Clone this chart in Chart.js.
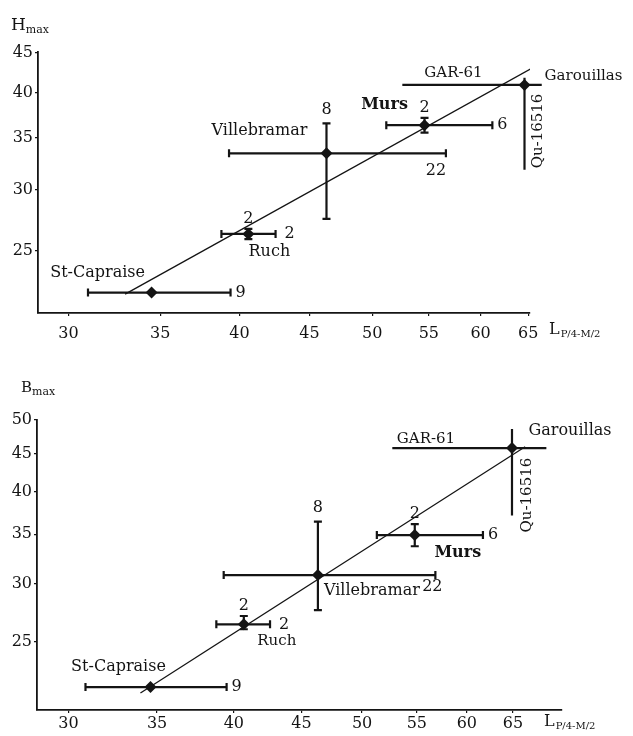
<!DOCTYPE html>
<html>
<head>
<meta charset="utf-8">
<script src="https://cdn.jsdelivr.net/npm/chart.js@4.4.0/dist/chart.umd.min.js"></script>
<style>
  body { margin: 0; background: #fff; }
  .box { position: relative; width: 633px; }
</style>
</head>
<body>
<div class="box" style="height:345px"><canvas id="chartH"></canvas></div>
<div class="box" style="height:391px"><canvas id="chartB"></canvas></div>

<script>
// sites, same order in both panels
const sites = ['St-Capraise', 'Ruch', 'Villebramar', 'Murs', 'Garouillas'];
const nL = ['9', '2', '22', '6', ''];     // n for the L measurement
const nV = ['', '2', '8', '2', ''];       // n for Hmax / Bmax

const xTicks = [30, 35, 40, 45, 50, 55, 60, 65];
const hTicks = [25, 30, 35, 40, 45];
const bTicks = [25, 30, 35, 40, 45, 50];

// upper panel: Hmax against L
const hL    = [34.5, 40.6, 46.3, 54.6, 64.6];
const hLlo  = [31.0, 38.8, 39.3, 51.2, 52.6];
const hLhi  = [39.4, 42.5, 56.6, 61.2, 66.5];
const hH    = [22.1, 26.3, 33.4, 36.3, 40.9];
const hHlo  = [null, 25.9, 27.5, 35.5, 31.8];
const hHhi  = [null, 26.7, 36.5, 37.1, 41.8];
const hFitX = [33.0, 66.5];
const hFitY = [22.0, 43.7];

// lower panel: Bmax against L
const bL    = [34.6, 40.7, 46.3, 54.8, 64.9];
const bLlo  = [30.9, 38.8, 39.3, 51.3, 52.7];
const bLhi  = [39.5, 42.6, 56.8, 61.7, 68.9];
const bB    = [21.7, 26.4, 30.8, 34.9, 45.8];
const bBlo  = [null, 26.0, 27.6, 33.7, 37.1];
const bBhi  = [null, 27.1, 36.4, 36.1, 48.6];
const bFitX = [34.0, 66.4];
const bFitY = [21.3, 46.0];

const INK = '#141414';
const SERIF = '"DejaVu Serif", serif';

function pts(xs, ys) { return xs.map((v, i) => ({ x: v, y: ys[i] })); }

// draws error bars and the text around the points, all from the scales
function marksPlugin(p) {
  return {
    id: 'marks',
    beforeDatasetsDraw(chart) {
      const { ctx, scales: { x, y } } = chart;
      ctx.save();
      ctx.strokeStyle = INK;
      ctx.lineWidth = 2.2;
      p.x.forEach((v, i) => {
        const px = x.getPixelForValue(v), py = y.getPixelForValue(p.y[i]);
        const x0 = x.getPixelForValue(p.xlo[i]), x1 = x.getPixelForValue(p.xhi[i]);
        ctx.beginPath();
        ctx.moveTo(x0, py); ctx.lineTo(x1, py);
        if (p.caps[i]) {
          ctx.moveTo(x0, py - 4); ctx.lineTo(x0, py + 4);
          ctx.moveTo(x1, py - 4); ctx.lineTo(x1, py + 4);
        }
        if (p.ylo[i] != null) {
          const y0 = y.getPixelForValue(p.ylo[i]), y1 = y.getPixelForValue(p.yhi[i]);
          ctx.moveTo(px, y0); ctx.lineTo(px, y1);
          if (p.caps[i]) {
            ctx.moveTo(px - 4, y0); ctx.lineTo(px + 4, y0);
            ctx.moveTo(px - 4, y1); ctx.lineTo(px + 4, y1);
          }
        }
        ctx.stroke();
      });
      ctx.restore();
    },
    afterDraw(chart) {
      const { ctx, scales: { x, y } } = chart;
      ctx.save();
      ctx.fillStyle = INK;
      ctx.textBaseline = 'middle';
      // sample sizes
      ctx.font = '16px ' + SERIF;
      p.x.forEach((v, i) => {
        const px = x.getPixelForValue(v), py = y.getPixelForValue(p.y[i]);
        if (nL[i]) {
          const o = p.nLoff[i];
          ctx.textAlign = o.align || 'left';
          ctx.fillText(nL[i], x.getPixelForValue(p.xhi[i]) + o.dx, py + o.dy);
        }
        if (nV[i]) {
          ctx.textAlign = 'center';
          ctx.fillText(nV[i], px, y.getPixelForValue(p.yhi[i]) - p.nVgap[i]);
        }
      });
      // site names and dating labels
      p.names.forEach(n => {
        const px = x.getPixelForValue(p.x[n.i]) + n.dx;
        const py = y.getPixelForValue(p.y[n.i]) + n.dy;
        ctx.font = (n.bold ? 'bold ' : '') + n.size + 'px ' + SERIF;
        ctx.textAlign = 'center';
        if (n.rot) {
          ctx.save();
          ctx.translate(px, py);
          ctx.rotate(-Math.PI / 2);
          ctx.fillText(n.text, 0, 0);
          ctx.restore();
        } else {
          ctx.fillText(n.text, px, py);
        }
      });
      // axis titles
      ctx.textAlign = 'left';
      ctx.textBaseline = 'alphabetic';
      ctx.font = p.yTitleSize + 'px ' + SERIF;
      ctx.fillText(p.yTitle, p.yTitlePos[0], p.yTitlePos[1]);
      const w = ctx.measureText(p.yTitle).width;
      ctx.font = '11px ' + SERIF;
      ctx.fillText('max', p.yTitlePos[0] + w, p.yTitlePos[1] + 3);
      ctx.font = '16px ' + SERIF;
      ctx.fillText('L', p.xTitlePos[0], p.xTitlePos[1]);
      const wl = ctx.measureText('L').width;
      ctx.font = '10px ' + SERIF;
      ctx.fillText('P/4-M/2', p.xTitlePos[0] + wl + 1, p.xTitlePos[1] + 3);
      ctx.restore();
    }
  };
}

function makeChart(id, p) {
  return new Chart(document.getElementById(id), {
    type: 'scatter',
    data: {
      datasets: [
        {
          data: pts(p.fitX, p.fitY),
          showLine: true,
          borderColor: INK,
          borderWidth: 1.3,
          pointRadius: 0
        },
        {
          data: pts(p.x, p.y),
          pointStyle: 'rectRot',
          pointRadius: 6,
          pointBackgroundColor: INK,
          pointBorderColor: INK,
          pointBorderWidth: 0
        }
      ]
    },
    options: {
      responsive: true,
      maintainAspectRatio: false,
      animation: false,
      layout: { padding: p.pad },
      plugins: { legend: { display: false }, tooltip: { enabled: false } },
      scales: {
        x: {
          type: 'logarithmic',
          min: p.xmin, max: p.xmax,
          afterBuildTicks: s => { s.ticks = xTicks.map(v => ({ value: v })); },
          afterFit: s => { s.height = p.xAxisH; },
          ticks: {
            callback: v => String(v),
            autoSkip: false, maxRotation: 0,
            padding: p.xTickPad,
            color: INK,
            font: { family: SERIF, size: 16 }
          },
          grid: { drawOnChartArea: false, tickLength: 3, color: INK, lineWidth: 1.2 },
          border: { color: INK, width: 1.8 }
        },
        y: {
          type: 'logarithmic',
          min: p.ymin, max: p.ymax,
          afterBuildTicks: s => { s.ticks = p.yTicks.map(v => ({ value: v })); },
          afterFit: s => { s.width = p.yAxisW; },
          ticks: {
            callback: v => String(v),
            autoSkip: false,
            padding: 2,
            color: INK,
            font: { family: SERIF, size: 16 }
          },
          grid: { drawOnChartArea: false, tickLength: 3, color: INK, lineWidth: 1.2 },
          border: { color: INK, width: 1.8 }
        }
      }
    },
    plugins: [marksPlugin(p)]
  });
}

makeChart('chartH', {
  x: hL, xlo: hLlo, xhi: hLhi, y: hH, ylo: hHlo, yhi: hHhi,
  fitX: hFitX, fitY: hFitY, yTicks: hTicks,
  xmin: 28.5, xmax: 65.2, ymin: 20.8, ymax: 45.1,
  pad: { left: 0, right: 103, top: 52, bottom: 4 },
  xAxisH: 28, yAxisW: 38, xTickPad: 8,
  caps: [true, true, true, true, false],
  nLoff: [{ dx: 5, dy: 0 }, { dx: 9, dy: 0 }, { dx: -10, dy: 18, align: 'center' }, { dx: 5, dy: 0 }, null],
  nVgap: [0, 10, 14, 10, 0],
  names: [
    { i: 0, text: 'St-Capraise', dx: -54, dy: -20, size: 16 },
    { i: 1, text: 'Ruch', dx: 21, dy: 18, size: 16 },
    { i: 2, text: 'Villebramar', dx: -67, dy: -22, size: 16 },
    { i: 3, text: 'Murs', dx: -40, dy: -20, size: 16, bold: true },
    { i: 4, text: 'Garouillas', dx: 59, dy: -9, size: 15 },
    { i: 4, text: 'GAR-61', dx: -71, dy: -12, size: 15 },
    { i: 4, text: 'Qu-16516', dx: 14, dy: 46, size: 15, rot: true }
  ],
  yTitle: 'H', yTitleSize: 17, yTitlePos: [11, 30],
  xTitlePos: [549, 334]
});

makeChart('chartB', {
  x: bL, xlo: bLlo, xhi: bLhi, y: bB, ylo: bBlo, yhi: bBhi,
  fitX: bFitX, fitY: bFitY, yTicks: bTicks,
  xmin: 28.4, xmax: 70.8, ymin: 20.2, ymax: 50,
  pad: { left: 0, right: 71, top: 75, bottom: 4 },
  xAxisH: 22, yAxisW: 37, xTickPad: 1,
  caps: [true, true, true, true, false],
  nLoff: [{ dx: 5, dy: 0 }, { dx: 9, dy: 0 }, { dx: -3, dy: 12, align: 'center' }, { dx: 5, dy: 0 }, null],
  nVgap: [0, 10, 14, 10, 0],
  names: [
    { i: 0, text: 'St-Capraise', dx: -32, dy: -20, size: 16 },
    { i: 1, text: 'Ruch', dx: 33, dy: 17, size: 15 },
    { i: 2, text: 'Villebramar', dx: 54, dy: 16, size: 16 },
    { i: 3, text: 'Murs', dx: 43, dy: 18, size: 16, bold: true },
    { i: 4, text: 'Garouillas', dx: 58, dy: -17, size: 16 },
    { i: 4, text: 'GAR-61', dx: -86, dy: -9, size: 15 },
    { i: 4, text: 'Qu-16516', dx: 15, dy: 47, size: 15, rot: true }
  ],
  yTitle: 'B', yTitleSize: 15, yTitlePos: [21, 47],
  xTitlePos: [544, 381]
});
</script>
</body>
</html>
